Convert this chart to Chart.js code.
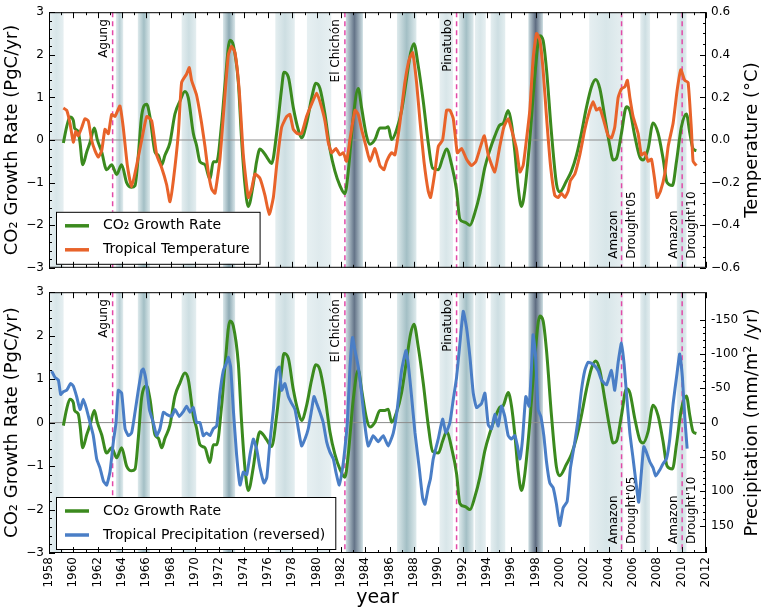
<!DOCTYPE html>
<html>
<head>
<meta charset="utf-8">
<script src="https://cdn.jsdelivr.net/npm/chart.js@4.4.0/dist/chart.umd.min.js"></script>
<style>
  html, body { margin: 0; padding: 0; background: #fff; }
  canvas { display: block; }
</style>
</head>
<body>
<canvas id="tempChart" width="765" height="280"></canvas>
<canvas id="precipChart" width="765" height="328"></canvas>
<script>
// CO2 growth rate (PgC/yr)
const co2Years = [1959.18, 1959.45, 1959.72, 1960.0, 1960.1, 1960.4, 1960.55, 1960.77, 1961.1, 1961.37, 1961.73, 1961.97, 1962.33, 1962.74, 1963.15, 1963.56, 1963.97, 1964.38, 1964.79, 1965.07, 1965.34, 1965.62, 1966.03, 1966.3, 1966.71, 1966.99, 1967.26, 1967.53, 1967.94, 1968.35, 1968.76, 1969.17, 1969.45, 1969.86, 1970.13, 1970.41, 1970.82, 1971.23, 1971.5, 1971.78, 1972.19, 1972.46, 1972.87, 1973.15, 1973.56, 1973.83, 1974.1, 1974.38, 1974.79, 1975.06, 1975.34, 1975.61, 1975.9, 1976.3, 1976.71, 1977.12, 1977.31, 1977.67, 1978.08, 1978.49, 1978.76, 1979.17, 1979.59, 1979.94, 1980.27, 1980.68, 1981.09, 1981.5, 1981.91, 1982.32, 1982.6, 1983.01, 1983.42, 1983.69, 1984.1, 1984.38, 1984.79, 1985.2, 1985.61, 1985.88, 1986.16, 1986.57, 1986.98, 1987.39, 1987.72, 1987.99, 1988.35, 1988.76, 1989.17, 1989.53, 1990.0, 1990.35, 1990.68, 1991.09, 1991.5, 1991.77, 1992.18, 1992.6, 1993.0, 1993.42, 1993.82, 1994.23, 1994.64, 1995.05, 1995.33, 1995.74, 1996.01, 1996.29, 1996.56, 1996.83, 1997.11, 1997.52, 1997.93, 1998.34, 1998.61, 1998.89, 1999.3, 1999.71, 1999.97, 2000.53, 2000.94, 2001.35, 2001.76, 2002.17, 2002.59, 2002.94, 2003.27, 2003.68, 2004.09, 2004.37, 2004.64, 2005.05, 2005.46, 2005.74, 2006.15, 2006.56, 2006.83, 2007.24, 2007.65, 2008.06, 2008.47, 2008.8, 2009.24, 2009.57, 2009.98, 2010.39, 2010.67, 2010.94, 2011.21];
const co2Rate = [-0.07, 0.31, 0.54, 0.46, 0.28, 0.2, -0.06, -0.58, -0.28, -0.06, 0.28, 0.01, -0.28, -0.7, -0.58, -0.81, -0.58, -1.0, -1.11, -1.07, -0.36, 0.58, 0.84, 0.54, -0.28, -0.36, -0.58, -0.36, -0.06, 0.61, 0.91, 1.14, 0.99, 0.16, -0.13, -0.51, -0.58, -0.92, -0.51, -0.51, 0.39, 1.29, 2.34, 2.22, 1.36, 0.01, -1.03, -1.56, -1.03, -0.51, -0.21, -0.28, -0.4, -0.55, 0.16, 1.21, 1.59, 1.48, 0.76, 0.24, 0.05, 0.39, 0.99, 1.33, 1.21, 0.61, -0.21, -0.73, -1.07, -1.26, -0.73, 0.54, 1.21, 0.76, 0.09, -0.1, 0.01, 0.28, 0.28, 0.31, 0.01, 0.24, 0.69, 1.44, 2.04, 2.26, 1.74, 0.91, -0.06, -0.66, -0.7, -0.43, -0.21, -0.58, -1.18, -1.86, -1.93, -2.0, -1.71, -1.25, -0.65, -0.24, 0.09, 0.35, 0.39, 0.69, 0.39, -0.28, -1.11, -1.56, -1.18, 0.01, 1.51, 2.45, 2.34, 1.66, 0.16, -1.03, -1.22, -0.96, -0.73, -0.36, 0.16, 0.76, 1.25, 1.42, 1.21, 0.54, -0.13, -0.47, -0.43, 0.16, 0.78, 0.69, 0.09, -0.4, -0.47, -0.21, 0.4, 0.16, -0.43, -1.0, -1.07, -0.51, 0.31, 0.61, 0.16, -0.21, -0.25];

// tropical temperature anomaly (°C)
const tempYears = [1959.18, 1959.45, 1959.72, 1960.0, 1960.2, 1960.4, 1960.7, 1960.95, 1961.23, 1961.5, 1961.78, 1962.05, 1962.33, 1962.6, 1962.88, 1963.15, 1963.42, 1963.83, 1964.1, 1964.44, 1964.79, 1965.2, 1965.62, 1966.03, 1966.44, 1966.85, 1967.26, 1967.67, 1967.94, 1968.22, 1968.63, 1968.9, 1969.31, 1969.53, 1969.72, 1970.13, 1970.54, 1970.82, 1971.09, 1971.37, 1971.64, 1972.05, 1972.46, 1972.74, 1973.01, 1973.29, 1973.64, 1973.97, 1974.38, 1974.65, 1974.93, 1975.34, 1975.75, 1976.1, 1976.44, 1976.71, 1977.12, 1977.53, 1977.8, 1978.08, 1978.41, 1978.76, 1979.17, 1979.59, 1980.0, 1980.27, 1980.68, 1980.95, 1981.23, 1981.58, 1981.91, 1982.19, 1982.46, 1982.73, 1983.15, 1983.42, 1983.69, 1984.1, 1984.38, 1984.79, 1985.2, 1985.53, 1985.75, 1986.16, 1986.43, 1986.84, 1987.25, 1987.61, 1987.89, 1988.21, 1988.49, 1988.82, 1989.17, 1989.36, 1989.72, 1990.0, 1990.35, 1990.68, 1990.95, 1991.23, 1991.56, 1991.91, 1992.32, 1992.73, 1993.09, 1993.42, 1993.78, 1994.1, 1994.64, 1995.05, 1995.38, 1995.74, 1996.01, 1996.42, 1996.7, 1996.97, 1997.24, 1997.52, 1997.79, 1998.07, 1998.34, 1998.61, 1998.89, 1999.22, 1999.57, 1999.85, 2000.12, 2000.4, 2000.67, 2000.86, 2001.22, 2001.63, 2002.04, 2002.45, 2002.72, 2003.0, 2003.27, 2003.6, 2003.95, 2004.23, 2004.5, 2004.78, 2005.05, 2005.33, 2005.54, 2005.74, 2006.01, 2006.42, 2006.69, 2006.97, 2007.24, 2007.52, 2007.79, 2007.98, 2008.26, 2008.61, 2008.89, 2009.3, 2009.62, 2009.93, 2010.25, 2010.53, 2010.8, 2010.94, 2011.21];
const tempAnom = [0.15, 0.14, 0.08, -0.01, 0.04, 0.02, 0.06, 0.10, 0.09, 0.00, -0.05, -0.08, -0.05, 0.05, 0.03, 0.12, 0.11, 0.16, 0.06, -0.12, -0.22, -0.12, 0.00, 0.11, 0.09, -0.07, -0.13, -0.21, -0.29, -0.19, 0.03, 0.27, 0.31, 0.34, 0.28, 0.21, 0.08, -0.03, -0.15, -0.23, -0.25, -0.09, 0.21, 0.40, 0.44, 0.41, 0.23, -0.07, -0.27, -0.23, -0.16, -0.18, -0.26, -0.35, -0.27, -0.12, 0.06, 0.11, 0.12, 0.05, 0.03, 0.03, 0.11, 0.17, 0.22, 0.18, 0.09, -0.01, -0.06, -0.04, -0.07, -0.06, -0.10, 0.00, 0.14, 0.12, 0.05, -0.04, -0.10, -0.04, -0.12, -0.14, -0.10, -0.06, -0.07, 0.08, 0.27, 0.38, 0.41, 0.27, 0.09, -0.10, -0.24, -0.27, -0.15, -0.03, 0.00, 0.14, 0.14, 0.10, -0.06, -0.04, -0.09, -0.12, -0.10, -0.04, 0.02, -0.07, -0.15, -0.03, 0.06, 0.10, 0.05, -0.04, -0.15, -0.12, 0.00, 0.14, 0.38, 0.50, 0.47, 0.33, 0.11, -0.12, -0.26, -0.27, -0.25, -0.27, -0.24, -0.19, -0.16, -0.07, 0.05, 0.14, 0.18, 0.14, 0.15, 0.09, 0.02, 0.01, 0.06, 0.20, 0.24, 0.25, 0.28, 0.20, 0.11, 0.03, -0.07, -0.06, -0.10, -0.09, -0.19, -0.27, -0.24, -0.16, -0.03, 0.08, 0.23, 0.33, 0.28, 0.27, 0.05, -0.10, -0.12];

// tropical precipitation anomaly (mm/m2/yr), plotted on a reversed axis
const precipYears = [1958.22, 1958.49, 1958.77, 1958.96, 1959.18, 1959.45, 1959.78, 1960.0, 1960.27, 1960.55, 1960.82, 1961.1, 1961.37, 1961.64, 1961.92, 1962.19, 1962.47, 1962.74, 1963.01, 1963.29, 1963.51, 1963.7, 1963.97, 1964.25, 1964.52, 1964.79, 1965.07, 1965.34, 1965.62, 1965.75, 1965.97, 1966.25, 1966.57, 1966.85, 1967.12, 1967.4, 1967.67, 1968.08, 1968.35, 1968.71, 1969.04, 1969.31, 1969.59, 1969.86, 1970.13, 1970.41, 1970.68, 1970.95, 1971.23, 1971.5, 1971.78, 1972.05, 1972.33, 1972.55, 1972.74, 1972.93, 1973.15, 1973.42, 1973.7, 1973.97, 1974.25, 1974.52, 1974.79, 1975.06, 1975.34, 1975.67, 1975.9, 1976.16, 1976.44, 1976.71, 1976.93, 1977.12, 1977.39, 1977.67, 1977.94, 1978.22, 1978.49, 1978.76, 1979.04, 1979.31, 1979.59, 1979.78, 1980.0, 1980.27, 1980.54, 1980.82, 1981.09, 1981.37, 1981.58, 1981.86, 1982.13, 1982.32, 1982.52, 1982.74, 1982.95, 1983.15, 1983.42, 1983.69, 1983.97, 1984.24, 1984.65, 1985.06, 1985.47, 1985.88, 1986.3, 1986.62, 1986.98, 1987.34, 1987.53, 1987.8, 1988.08, 1988.43, 1988.71, 1988.9, 1989.17, 1989.36, 1989.58, 1989.99, 1990.35, 1990.62, 1990.95, 1991.23, 1991.5, 1991.77, 1992.05, 1992.32, 1992.6, 1992.87, 1993.14, 1993.55, 1993.83, 1994.1, 1994.37, 1994.64, 1994.92, 1995.19, 1995.46, 1995.74, 1996.01, 1996.29, 1996.5, 1996.7, 1996.92, 1997.19, 1997.46, 1997.66, 1997.79, 1997.98, 1998.2, 1998.42, 1998.67, 1998.89, 1999.16, 1999.44, 1999.71, 1999.98, 2000.26, 2000.59, 2000.86, 2001.22, 2001.49, 2001.76, 2002.04, 2002.31, 2002.72, 2003.13, 2003.41, 2003.82, 2004.23, 2004.5, 2004.78, 2005.05, 2005.27, 2005.46, 2005.74, 2006.01, 2006.23, 2006.47, 2006.69, 2006.89, 2007.1, 2007.38, 2007.65, 2007.87, 2008.2, 2008.47, 2008.75, 2009.02, 2009.3, 2009.62, 2009.84, 2010.06, 2010.25, 2010.45];
const precipAnom = [-75, -66, -62, -41, -45, -47, -57, -53, -38, -19, -34, -19, 0, 19, 53, 66, 85, 91, 72, 28, 0, -47, -43, 9, 19, 15, -15, -47, -76, -78, -62, -19, 0, 19, 9, -15, -12, -9, -19, -9, -16, -24, -15, -22, 0, 0, 19, 15, 19, 9, 5, -43, -76, -85, -95, -81, -19, 47, 91, 72, 76, 47, 24, 38, 66, 88, 80, 28, -19, -76, -81, -47, -57, -38, -28, -19, 9, 34, 24, 9, -19, -38, -28, -15, 0, 28, 43, 53, 72, 91, 66, 38, 0, -81, -124, -105, -81, -43, 5, 34, 19, 28, 19, 34, 15, -19, -76, -105, -85, -38, 15, 66, 110, 119, 95, 81, 53, 24, -5, 15, 0, -34, -66, -115, -162, -138, -95, -43, -22, -28, -43, 3, 9, -12, 5, -24, -9, 19, 24, 19, 34, 53, 24, -38, -24, -81, -128, -100, -19, -9, 19, 57, 88, 95, 119, 150, 124, 115, 66, 28, -5, -47, -76, -88, -85, -76, -62, -55, -76, -47, -88, -116, -85, -43, 15, 53, 85, 116, 72, 35, 43, 57, 66, 78, 69, 60, 53, 24, -28, -72, -100, -66, -9, 38];

// volcanic eruptions and Amazon droughts
const eventYears = [1963.23, 1982.32, 1991.5, 2005.06, 2010.04];
const eventLabels = [["Agung"], ["El Chichón"], ["Pinatubo"], ["Amazon", "Drought'05"], ["Amazon", "Drought'10"]];

// El Niño shading: start, end, strength 0..1
const bandStart = [1958.0, 1963.5, 1965.3, 1968.9, 1972.3, 1976.6, 1979.2, 1982.4, 1986.6, 1990.1, 1991.7, 1993.0, 1994.3, 1997.4, 2002.4, 2006.6, 2009.6];
const bandEnd = [1959.2, 1964.1, 1966.3, 1970.1, 1973.3, 1978.2, 1981.2, 1983.8, 1988.2, 1991.2, 1992.9, 1993.9, 1995.5, 1998.6, 2005.2, 2007.4, 2010.4];
const bandLevel = [0.3, 0.45, 0.55, 0.35, 0.65, 0.35, 0.25, 0.9, 0.55, 0.3, 0.55, 0.3, 0.35, 0.95, 0.3, 0.35, 0.35];

const yearTicks = [1958, 1960, 1962, 1964, 1966, 1968, 1970, 1972, 1974, 1976, 1978, 1980, 1982, 1984, 1986, 1988, 1990, 1992, 1994, 1996, 1998, 2000, 2002, 2004, 2006, 2008, 2010, 2012];
const co2Ticks = [-3, -2, -1, 0, 1, 2, 3];
const tempTicks = [-0.6, -0.4, -0.2, 0, 0.2, 0.4, 0.6];
const precipTicks = [-150, -100, -50, 0, 50, 100, 150];

const GREEN = "#3b8a1e";
const ORANGE = "#e8632a";
const BLUE = "#4a7ec6";
const MAGENTA = "#e24aa8";
const FONT = "'DejaVu Sans', 'Liberation Sans', sans-serif";

const shadeStops = [
  [0, [255, 255, 255]],
  [0.3, [216, 230, 233]],
  [0.6, [152, 183, 190]],
  [0.8, [112, 132, 150]],
  [1, [88, 100, 122]]
];

function shade(level) {
  for (let i = 1; i < shadeStops.length; i++) {
    const [l1, c1] = shadeStops[i];
    const [l0, c0] = shadeStops[i - 1];
    if (level <= l1) {
      const t = (level - l0) / (l1 - l0);
      const c = c0.map((v, k) => Math.round(v + (c1[k] - v) * t));
      return `rgb(${c[0]},${c[1]},${c[2]})`;
    }
  }
  return "rgb(88,100,122)";
}

function majorMinor(majors, sub) {
  const out = [];
  majors.forEach((v, i) => {
    out.push([v, 6]);
    const next = majors[i + 1];
    if (next === undefined) return;
    for (let k = 1; k < sub; k++) out.push([v + (next - v) * k / sub, 3]);
  });
  return out;
}

const backdrop = {
  id: "backdrop",
  beforeDatasetsDraw(chart) {
    const { ctx, chartArea: a, scales: { x, y } } = chart;
    ctx.save();
    ctx.beginPath();
    ctx.rect(a.left, a.top, a.width, a.height);
    ctx.clip();

    bandStart.forEach((s, i) => {
      const x0 = x.getPixelForValue(s);
      const x1 = x.getPixelForValue(bandEnd[i]);
      const lv = bandLevel[i];
      const g = ctx.createLinearGradient(x0, 0, x1, 0);
      g.addColorStop(0, shade(0.12 + lv * 0.25));
      g.addColorStop(0.5, shade(lv));
      g.addColorStop(1, shade(0.12 + lv * 0.25));
      ctx.fillStyle = g;
      ctx.fillRect(x0, a.top, x1 - x0, a.height);
    });

    const y0 = y.getPixelForValue(0);
    ctx.strokeStyle = "#8c8c8c";
    ctx.lineWidth = 1;
    ctx.beginPath();
    ctx.moveTo(a.left, y0);
    ctx.lineTo(a.right, y0);
    ctx.stroke();

    ctx.strokeStyle = MAGENTA;
    ctx.lineWidth = 1.5;
    ctx.setLineDash([5, 4]);
    ctx.font = `12px ${FONT}`;
    ctx.fillStyle = "#000";
    eventYears.forEach((yr, i) => {
      const px = x.getPixelForValue(yr);
      ctx.beginPath();
      ctx.moveTo(px, a.top);
      ctx.lineTo(px, a.bottom);
      ctx.stroke();

      const lines = eventLabels[i];
      ctx.save();
      if (lines.length === 1) {
        ctx.translate(px - 3, a.top + 7);
        ctx.rotate(-Math.PI / 2);
        ctx.textAlign = "right";
        ctx.textBaseline = "bottom";
        ctx.fillText(lines[0], 0, 0);
      } else {
        ctx.translate(px, a.bottom - 9);
        ctx.rotate(-Math.PI / 2);
        ctx.textAlign = "left";
        ctx.textBaseline = "bottom";
        ctx.fillText(lines[0], 0, -2);
        ctx.textBaseline = "top";
        ctx.fillText(lines[1], 0, 4);
      }
      ctx.restore();
    });
    ctx.restore();
  },

  afterDatasetsDraw(chart, args, opts) {
    const { ctx, chartArea: a, scales } = chart;
    ctx.save();

    // legend box in the lower left corner
    const ds = chart.data.datasets;
    ctx.font = `14px ${FONT}`;
    const tw = Math.max(...ds.map(d => ctx.measureText(d.label).width));
    const bx = a.left + 7, bh = 52, by = a.bottom - bh - 4;
    const bw = 47 + tw + 10;
    ctx.fillStyle = "#fff";
    ctx.fillRect(bx, by, bw, bh);
    ctx.strokeStyle = "#000";
    ctx.lineWidth = 1;
    ctx.strokeRect(bx + 0.5, by + 0.5, bw, bh);
    ds.forEach((d, i) => {
      const ly = by + 14 + i * 24;
      ctx.strokeStyle = d.borderColor;
      ctx.lineWidth = 3.5;
      ctx.beginPath();
      ctx.moveTo(bx + 9, ly);
      ctx.lineTo(bx + 33, ly);
      ctx.stroke();
      ctx.fillStyle = "#000";
      ctx.textAlign = "left";
      ctx.textBaseline = "middle";
      ctx.fillText(d.label, bx + 47, ly);
    });

    // frame and inward ticks
    ctx.strokeStyle = "#000";
    ctx.lineWidth = 1;
    ctx.strokeRect(a.left + 0.5, a.top + 0.5, a.width - 1, a.height - 1);
    ctx.beginPath();
    majorMinor(yearTicks, 2).forEach(([v, len]) => {
      const p = Math.round(scales.x.getPixelForValue(v)) + 0.5;
      ctx.moveTo(p, a.bottom); ctx.lineTo(p, a.bottom - len);
      ctx.moveTo(p, a.top); ctx.lineTo(p, a.top + len);
    });
    majorMinor(co2Ticks, 5).forEach(([v, len]) => {
      const p = Math.round(scales.y.getPixelForValue(v)) + 0.5;
      ctx.moveTo(a.left, p); ctx.lineTo(a.left + len, p);
    });
    majorMinor(opts.rightTicks, opts.rightSub).forEach(([v, len]) => {
      const p = Math.round(scales.y2.getPixelForValue(v)) + 0.5;
      ctx.moveTo(a.right, p); ctx.lineTo(a.right - len, p);
    });
    ctx.stroke();

    // axis titles, reading bottom to top on both sides
    ctx.fillStyle = "#000";
    ctx.font = `18px ${FONT}`;
    ctx.textAlign = "center";
    ctx.textBaseline = "middle";
    const midY = (a.top + a.bottom) / 2;
    [[12, "CO₂ Growth Rate (PgC/yr)"], [752, opts.rightTitle]].forEach(([tx, text]) => {
      ctx.save();
      ctx.translate(tx, midY);
      ctx.rotate(-Math.PI / 2);
      ctx.fillText(text, 0, 0);
      ctx.restore();
    });
    if (opts.xTitle) {
      ctx.font = `19px ${FONT}`;
      ctx.fillText(opts.xTitle, (a.left + a.right) / 2, chart.height - 10);
    }
    ctx.restore();
  }
};

const fmtMinus = v => (v < 0 ? "\u2212" : "") + Math.abs(v);

function buildChart(canvasId, second, rightScale, plugOpts) {
  const ctx = document.getElementById(canvasId).getContext("2d");
  const showYears = !!plugOpts.xTitle;
  return new Chart(ctx, {
    type: "line",
    data: {
      datasets: [
        {
          label: "CO₂ Growth Rate",
          data: co2Years.map((x, i) => ({ x, y: co2Rate[i] })),
          borderColor: GREEN,
          borderWidth: 3,
          pointRadius: 0,
          cubicInterpolationMode: "monotone",
          yAxisID: "y",
          order: 1
        },
        {
          label: second.label,
          data: second.years.map((x, i) => ({ x, y: second.values[i] })),
          borderColor: second.color,
          borderWidth: 3,
          pointRadius: 0,
          tension: 0.15,
          yAxisID: "y2",
          order: 0
        }
      ]
    },
    options: {
      responsive: false,
      animation: false,
      devicePixelRatio: 1,
      layout: { padding: { top: 7, left: 0, right: 0, bottom: 0 } },
      plugins: {
        legend: { display: false },
        tooltip: { enabled: false },
        backdrop: plugOpts
      },
      scales: {
        x: {
          type: "linear",
          min: 1958,
          max: 2012,
          grid: { display: false, drawTicks: false },
          border: { display: false },
          afterBuildTicks: scale => { scale.ticks = yearTicks.map(v => ({ value: v })); },
          afterFit: scale => { scale.height = showYears ? 55 : 7; },
          ticks: {
            display: showYears,
            autoSkip: false,
            maxRotation: 90,
            minRotation: 90,
            padding: 4,
            color: "#000",
            font: { family: FONT, size: 12 },
            callback: v => String(v)
          }
        },
        y: {
          position: "left",
          min: -3,
          max: 3,
          grid: { display: false, drawTicks: false },
          border: { display: false },
          afterBuildTicks: scale => { scale.ticks = co2Ticks.map(v => ({ value: v })); },
          afterFit: scale => { scale.width = 49; },
          ticks: {
            padding: 5,
            color: "#000",
            font: { family: FONT, size: 12 },
            callback: fmtMinus
          }
        },
        y2: Object.assign({
          position: "right",
          grid: { display: false, drawTicks: false },
          border: { display: false },
          afterFit: scale => { scale.width = 59; },
        }, rightScale)
      }
    },
    plugins: [backdrop]
  });
}

buildChart("tempChart",
  { label: "Tropical Temperature", years: tempYears, values: tempAnom, color: ORANGE },
  {
    min: -0.6,
    max: 0.6,
    afterBuildTicks: scale => { scale.ticks = tempTicks.map(v => ({ value: v })); },
    ticks: {
      padding: 5,
      color: "#000",
      font: { family: FONT, size: 12 },
      callback: v => (Math.abs(v) < 1e-9 ? "0.0" : (v < 0 ? "\u2212" : "") + Math.abs(v).toFixed(1))
    }
  },
  { rightTicks: tempTicks, rightSub: 4, rightTitle: "Temperature (°C)" }
);

buildChart("precipChart",
  { label: "Tropical Precipitation (reversed)", years: precipYears, values: precipAnom, color: BLUE },
  {
    min: -190,
    max: 190,
    reverse: true,
    afterBuildTicks: scale => { scale.ticks = precipTicks.map(v => ({ value: v })); },
    ticks: {
      padding: 5,
      color: "#000",
      font: { family: FONT, size: 12 },
      callback: v => String(v)
    }
  },
  { rightTicks: precipTicks, rightSub: 5, rightTitle: "Precipitation (mm/m² /yr)", xTitle: "year" }
);
</script>
</body>
</html>
